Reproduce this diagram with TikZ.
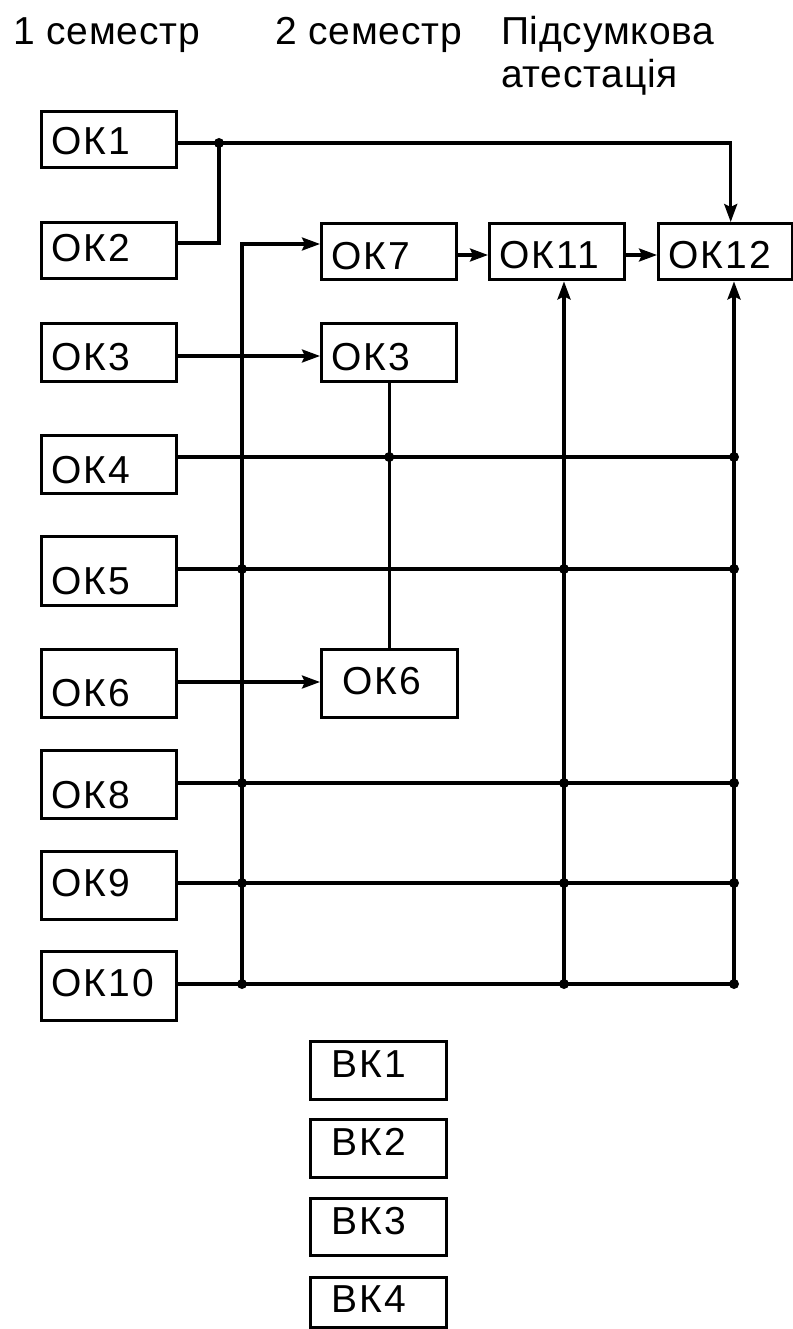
\documentclass[tikz,border=0pt]{standalone}
\usepackage{fontspec}
\setmainfont{Liberation Sans}[LetterSpace=5]
\usetikzlibrary{arrows.meta}
\begin{document}
\begin{tikzpicture}[x=1pt,y=-1pt,
  txt/.style={font=\fontsize{39}{45}\selectfont},
  box/.style={txt,draw,line width=3.4pt,inner sep=0pt,inner xsep=10pt,text width=115pt,align=left,anchor=north west},
  boxw/.style={box,inner xsep=21pt,text width=94pt},
  hdr/.style={font=\fontsize{39}{45}\selectfont\addfontfeatures{LetterSpace=2},anchor=base west,inner sep=0pt},
  conn/.style={line width=3.2pt},
  arr/.style={conn,-{Stealth[length=18pt,width=13pt,inset=3pt]}},
  dot/.style={fill=black}]
\useasboundingbox (0,0) rectangle (792,1329);
% headers
\node[hdr] (h1) at (13,45) {1 семестр};
\node[hdr] (h2) at (275,45) {2 семестр};
\node[hdr] (h3) at (501,45) {Підсумкова};
\node[hdr] (h4) at (501,88) {атестація};
% left column
\node[box,text height=43pt,text depth=13pt] (k1) at (40,110) {ОК1};
\node[box,text height=39pt,text depth=17pt] (k2) at (40,221) {ОК2};
\node[box,text height=47pt,text depth=11pt] (k3) at (40,322) {ОК3};
\node[box,text height=48pt,text depth=10pt] (k4) at (40,434) {ОК4};
\node[box,text height=58pt,text depth=11pt] (k5) at (40,535) {ОК5};
\node[box,text height=57pt,text depth=11pt] (k6) at (40,648) {ОК6};
\node[box,text height=58pt,text depth=10pt] (k8) at (40,749) {ОК8};
\node[box,text height=45pt,text depth=23pt] (k9) at (40,850) {ОК9};
\node[box,text height=45pt,text depth=24pt] (k10) at (40,950) {ОК10};
% middle and right
\node[box,text height=46pt,text depth=10pt] (k7) at (320,222) {ОК7};
\node[box,text height=47pt,text depth=11pt] (k3b) at (320,322) {ОК3};
\node[boxw,text height=45pt,text depth=23pt] (k6b) at (320,648) {ОК6};
\node[box,text height=45pt,text depth=11pt] (k11) at (488,222) {ОК11};
\node[box,text height=45pt,text depth=11pt,text width=114pt] (k12) at (657,222) {ОК12};
% elective
\node[boxw,text height=36pt,text depth=22pt] (b1) at (309,1040) {ВК1};
\node[boxw,text height=36pt,text depth=22pt] (b2) at (309,1118) {ВК2};
\node[boxw,text height=36pt,text depth=21pt] (b3) at (309,1197) {ВК3};
\node[boxw,text height=35pt,text depth=15pt] (b4) at (309,1276) {ВК4};
% coordinates
\coordinate (j1) at (219,143);
\coordinate (j2) at (219,243);
\coordinate (xa) at (242,0);
\coordinate (xc) at (564,0);
\coordinate (xd) at (734,0);
\coordinate (r0) at (0,244);
\coordinate (r7) at (0,255);
\coordinate (r3) at (0,356);
\coordinate (r4) at (0,457);
\coordinate (r5) at (0,569);
\coordinate (r6) at (0,682);
\coordinate (r8) at (0,783);
\coordinate (r9) at (0,883);
\coordinate (r10) at (0,984);
% connectors
\draw[arr] (k1.east |- j1) -| ([xshift=5pt]k12.north);
\draw[conn] (k2.east |- j2) -- (j2) -- (j1);
\draw[arr] (xa |- r10) -- (xa |- r0) -- (k7.west |- r0);
\draw[arr] (k3.east |- r3) -- (k3b.west |- r3);
\draw[arr] (k6.east |- r6) -- (k6b.west |- r6);
\draw[conn] (k3b.south) -- (k3b.south |- k6b.north);
\draw[arr] (k7.east |- r7) -- (k11.west |- r7);
\draw[arr] (k11.east |- r7) -- (k12.west |- r7);
\draw[conn] (k4.east |- r4) -- (xd |- r4);
\draw[conn] (k5.east |- r5) -- (xd |- r5);
\draw[conn] (k8.east |- r8) -- (xd |- r8);
\draw[conn] (k9.east |- r9) -- (xd |- r9);
\draw[conn] (k10.east |- r10) -- (xd |- r10);
\draw[arr] (xc |- r10) -- (k11.south -| xc);
\draw[arr] (xd |- r10) -- (k12.south -| xd);
% junction dots
\foreach \p in {j1, k3b.south |- r4, xd |- r4,
  xa |- r5, xc |- r5, xd |- r5,
  xa |- r8, xc |- r8, xd |- r8,
  xa |- r9, xc |- r9, xd |- r9,
  xa |- r10, xc |- r10, xd |- r10}
  \fill[dot] (\p) circle (5pt);
\end{tikzpicture}
\end{document}
